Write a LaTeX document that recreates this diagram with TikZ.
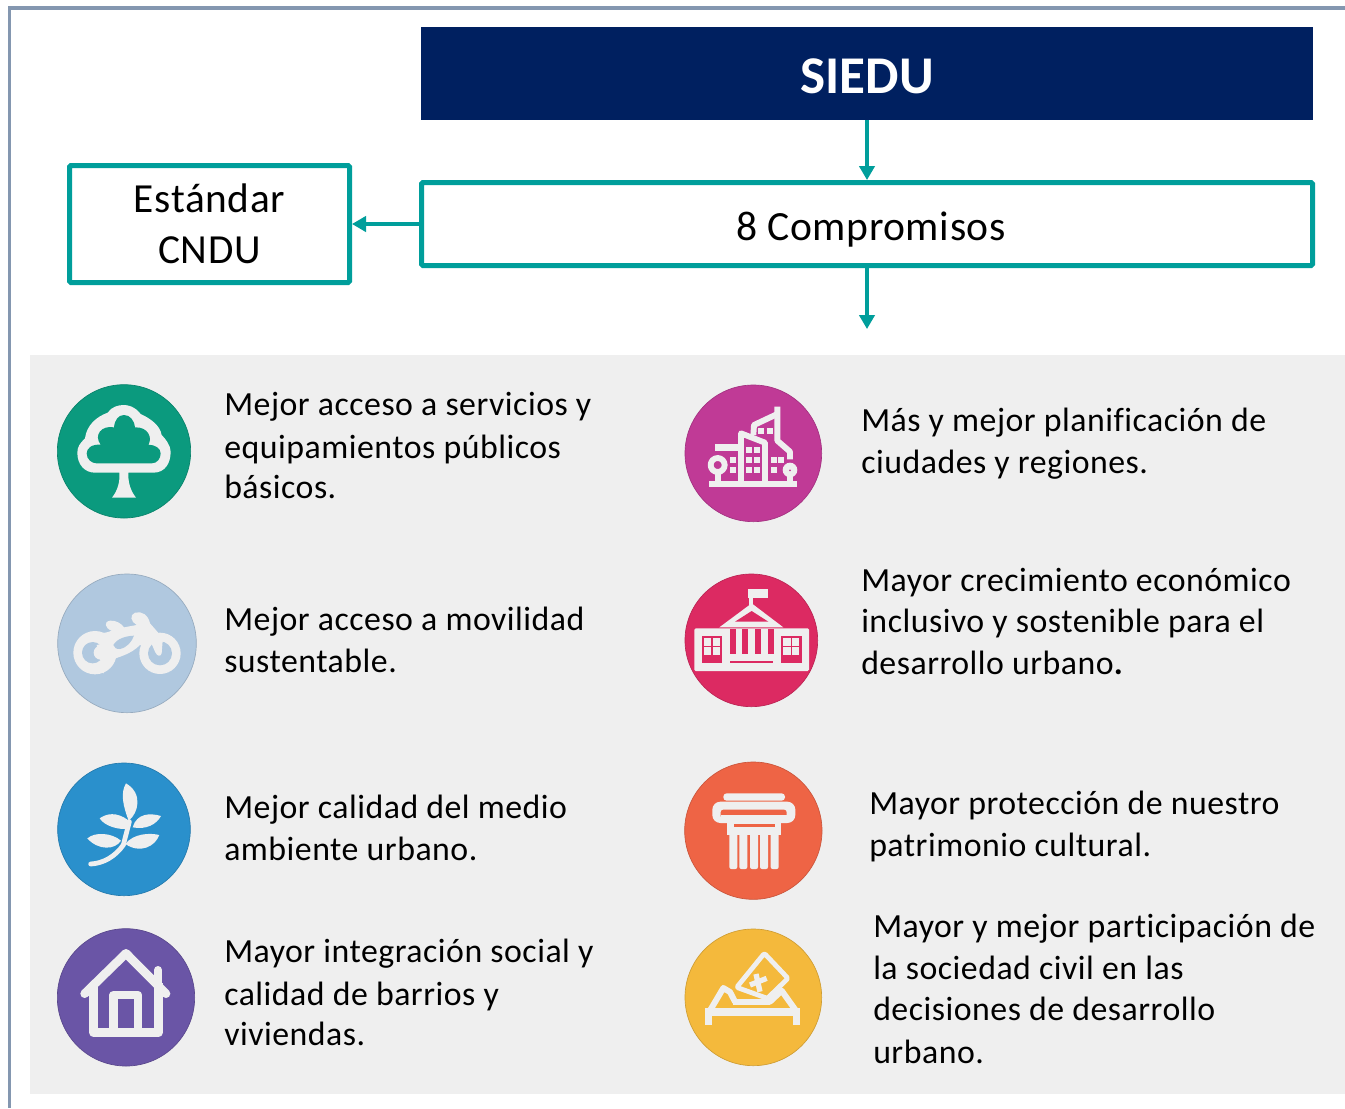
\documentclass[tikz,border=0pt]{standalone}
\usepackage{fontspec}
\setmainfont{Carlito}[Ligatures=NoCommon]
\usetikzlibrary{arrows.meta}
\definecolor{teal1}{HTML}{009E9B}
\definecolor{navy1}{HTML}{002060}
\definecolor{frame1}{HTML}{8497B0}
\definecolor{panel1}{HTML}{EFEFEF}
\definecolor{ctree}{HTML}{0B9A7E}
\definecolor{cbike}{HTML}{B0C8DF}
\definecolor{cleaf}{HTML}{2A90CC}
\definecolor{chouse}{HTML}{6A55A6}
\definecolor{ccity}{HTML}{C03A96}
\definecolor{cschool}{HTML}{DC2A62}
\definecolor{ccol}{HTML}{EE6445}
\definecolor{cvote}{HTML}{F4B93C}
\tikzset{
  connector/.style={draw=teal1,line width=2.4pt,-{Triangle[length=10.5pt,width=11.5pt]}},
  tealbox/.style={draw=teal1,line width=3.75pt,fill=white,rounded corners=1pt,inner sep=0pt,align=center,text=black},
  itemtext/.style={anchor=base west,inner sep=0pt,align=left,text=black,font=\fontsize{25.35pt}{31pt}\selectfont\addfontfeatures{LetterSpace=1.5}},
  ink/.style={fill=panel1,draw=none},
  zoomed/.style={x=.25pt,y=-.25pt},
  iconline/.style={draw=panel1,line width=#1,line join=round},
  disc/.style={fill=#1,draw=#1!85!black,line width=.5pt},
}
\begin{document}
\begin{tikzpicture}[x=.75pt,y=-.75pt]
\useasboundingbox (0,0) rectangle (1345,1108);
\fill[white] (0,0) rectangle (1345,1108);
\draw[frame1,line width=2.6pt] (1345,8) -- (9.5,8) -- (9.5,1108);
\fill[panel1] (30,355) rectangle (1345,1094);

\node[fill=navy1,minimum width=669pt,minimum height=69.75pt,inner sep=0pt,text=white,text height=29.6pt,text depth=0pt,font=\fontsize{39.8pt}{44pt}\selectfont\bfseries] (siedu) at (867,73.5) {SIEDU};
\node[tealbox,minimum width=668.25pt,minimum height=62.25pt,text height=24pt,text depth=0pt,font=\fontsize{31.2pt}{36pt}\selectfont\addfontfeatures{LetterSpace=1.5}] (comp) at (867,224) {\hspace*{6pt}8 Compromisos};
\node[tealbox,minimum width=210pt,minimum height=87.75pt,font=\fontsize{31pt}{38pt}\selectfont\addfontfeatures{LetterSpace=1.5}] (std) at (209.5,224) {Estándar\\CNDU};
\coordinate (free) at (867,329);
\draw[connector] (siedu.south) -- (comp.north);
\draw[connector] (comp.west) -- (std.east);
\draw[connector] (comp.south) -- (free);

% texts (the base anchor is the baseline of the last line)
\node[itemtext] (t1) at (224,498) {Mejor acceso a servicios y\\[1pt]equipamientos públicos\\[-1pt]básicos.};
\node[itemtext] (t2) at (224,672) {Mejor acceso a movilidad\\sustentable.};
\node[itemtext] (t3) at (224,860) {Mejor calidad del medio\\ambiente urbano.};
\node[itemtext] (t4) at (224,1045) {Mayor integración social y\\[1pt]calidad de barrios y\\[-1pt]viviendas.};
\node[itemtext] (t5) at (861,473) {Más y mejor planificación de\\ciudades y regiones.};
\node[itemtext] (t6) at (861,674) {Mayor crecimiento económico\\inclusivo y sostenible para el\\desarrollo urbano{\bfseries .}};
\node[itemtext] (t7) at (869,856) {Mayor protección de nuestro\\patrimonio cultural.};
\node[itemtext] (t8) at (873,1063) {Mayor y mejor participación de\\la sociedad civil en las\\decisiones de desarrollo\\[1pt]urbano.};

% tree + bike
\begin{scope}[shift={(40,370)},zoomed]
\path[disc=ctree] (252,244) circle (200);
\path[ink] (216,383) -- (288,383) .. controls (270,360) and (264,335) .. (265,308) -- (340,308)
  .. controls (375,308) and (392,280) .. (392,245) .. controls (392,225) and (375,205) .. (365,195)
  .. controls (360,165) and (330,145) .. (302,132) .. controls (285,110) and (265,105) .. (252,105)
  .. controls (235,105) and (215,110) .. (203,128) .. controls (170,140) and (140,165) .. (135,205)
  .. controls (120,220) and (112,230) .. (112,248) .. controls (112,285) and (135,308) .. (165,308)
  -- (238,308) .. controls (240,335) and (234,360) .. (216,383) -- cycle;
\fill[ctree] (170,280) -- (335,280) .. controls (352,280) and (362,265) .. (362,250)
  .. controls (362,235) and (345,224) .. (325,224) .. controls (338,205) and (325,170) .. (285,172)
  .. controls (282,150) and (270,135) .. (252,135) .. controls (235,135) and (224,150) .. (222,172)
  .. controls (185,165) and (160,195) .. (182,224) .. controls (155,222) and (140,235) .. (140,250)
  .. controls (140,268) and (155,280) .. (170,280) -- cycle;
\path[disc=cbike] (261,820) circle (208);
\path[ink] (165,848) circle (65);
\path[ink] (360,850) circle (62);
\path[ink] (125,800) .. controls (150,785) and (190,795) .. (215,782) .. controls (195,775) and (190,755) .. (210,752)
  .. controls (225,750) and (245,760) .. (252,772) -- (290,765) .. controls (272,755) and (268,735) .. (285,728)
  .. controls (305,722) and (325,735) .. (330,760) -- (365,800) -- (350,860) -- (320,830) -- (300,825)
  .. controls (270,855) and (235,860) .. (215,870) -- (190,910) -- (130,860) -- cycle;
\fill[cbike] (158,848) circle (32);
\path[ink] (182,848) circle (21);
\path[ink] (170,825) -- (215,815) -- (215,865) -- (180,870) -- cycle;
\fill[cbike] (360,850) circle (36);
\path[ink] (332,815) -- (345,845) .. controls (350,858) and (362,862) .. (365,850) -- (368,812) -- cycle;
\fill[cbike] (220,825) .. controls (232,805) and (258,798) .. (282,797) .. controls (275,815) and (262,832) .. (240,837) .. controls (230,838) and (222,833) .. (220,825) -- cycle;
\end{scope}

% leaf + house
\begin{scope}[shift={(40,750)},zoomed]
\path[disc=cleaf] (252,238) circle (199);
\path[ink] (258,100) .. controls (240,130) and (250,170) .. (266,212) .. controls (295,190) and (310,130) .. (258,100) -- cycle;
\path[ink] (278,232) .. controls (320,240) and (350,222) .. (363,198) .. controls (330,188) and (290,190) .. (278,232) -- cycle;
\path[ink] (264,210) .. controls (230,185) and (200,190) .. (179,205) .. controls (195,230) and (240,240) .. (262,236) -- cycle;
\path[ink] (142,265) .. controls (165,245) and (215,248) .. (243,272) .. controls (225,300) and (175,302) .. (142,265) -- cycle;
\path[ink] (358,255) .. controls (330,248) and (280,250) .. (256,282) .. controls (300,312) and (345,290) .. (358,255) -- cycle;
\draw[iconline=3.6pt,line cap=round] (268,215) -- (250,285) .. controls (225,320) and (190,340) .. (152,342);
\path[disc=chouse] (258,742) circle (206);
\draw[iconline=6.5pt,line cap=round] (134,731) -- (258,610) -- (378,731);
\draw[iconline=6.5pt] (161,712) -- (161,848) -- (355,848) -- (355,700);
\draw[iconline=6.6pt] (221,848) -- (221,735) -- (294,735) -- (294,848);
\draw[iconline=6pt,line cap=round] (354,660) -- (354,700);
\end{scope}

% city + school
\begin{scope}[shift={(670,370)},zoomed]
\path[disc=ccity] (250,250) circle (205);
\path[ink] (118,333) rectangle (381,351);
\draw[iconline=4.4pt] (213,335) -- (213,190) -- (285,218) -- (285,335);
\draw[iconline=5pt] (135,233) -- (213,233);
\draw[iconline=4.4pt] (250,195) -- (252,165) -- (322,132);
\draw[iconline=4.4pt] (322,110) -- (322,212) -- (360,245) -- (360,268);
\draw[iconline=4.4pt] (143,285) circle (21);
\draw[iconline=4.4pt] (143,306) -- (143,335);
\path[ink] (360,300) circle (22);
\fill[ccity] (360,301) circle (3);
\draw[iconline=4.4pt] (360,320) -- (360,335);
\foreach \wx/\wy in {228/230,252/230,228/262,252/262,228/292,252/292,180/262,180/292,302/262,325/262,302/292,265/175,290/175}
  \path[ink] (\wx,\wy) rectangle ++(18,18);
\path[disc=cschool] (244,811) circle (199);
\path[ink] (233,657) rectangle (293,683);
\draw[iconline=3.5pt] (243,660) -- (243,705);
\path[ink] (148,772) -- (245,700) -- (340,772) -- cycle;
\path[ink,rounded corners=1pt] (73,775) rectangle (417,903);
\fill[cschool] (195,755) -- (245,723) -- (295,755) -- cycle;
\foreach \cx in {180,217,255,294}
  \fill[cschool] (\cx,778) rectangle ++(17,74);
\fill[cschool] (180,873) rectangle (310,879);
\fill[cschool] (95,797) rectangle (157,880);
\fill[cschool] (333,797) rectangle (395,880);
\foreach \wx in {102,128,340,366}
  \foreach \wy in {805,832}
    \path[ink] (\wx,\wy) rectangle ++(22,22);
\end{scope}

% column + vote
\begin{scope}[shift={(670,750)},zoomed]
\path[disc=ccol] (250,242) circle (206);
\path[ink,rounded corners=2.5pt] (160,130) rectangle (345,152);
\path[ink,rounded corners=6pt] (127,155) rectangle (376,219);
\fill[ccol,rounded corners=2pt] (152,179) rectangle (350,206);
\path[ink] (152,194) rectangle (350,210);
\path[ink] (170,215) rectangle (333,255);
\fill[ccol] (193,222) rectangle (315,232);
\foreach \cx in {178,208,240,270,302}
  \path[ink,rounded corners=1.5pt] (\cx,245) rectangle ++(24,112);
\path[disc=cvote] (250,742) circle (205);
\draw[iconline=3.6pt,rounded corners=1pt] (283,610) -- (354,685) -- (292,745) -- (200,712) -- cycle;
\draw[iconline=4pt] (258,672) -- (270,725);
\draw[iconline=4pt] (240,705) -- (290,685);
\draw[iconline=4.5pt] (190,755) -- (300,755);
\path[ink] (105,775) rectangle (390,797);
\draw[iconline=5.5pt] (116,785) -- (116,825);
\draw[iconline=5.5pt] (379,785) -- (379,825);
\draw[iconline=4.5pt,line cap=round] (118,785) -- (160,714) -- (180,726) -- (195,755);
\draw[iconline=4.5pt,line cap=round] (300,755) -- (335,722) -- (380,785);
\end{scope}
\end{tikzpicture}
\end{document}
